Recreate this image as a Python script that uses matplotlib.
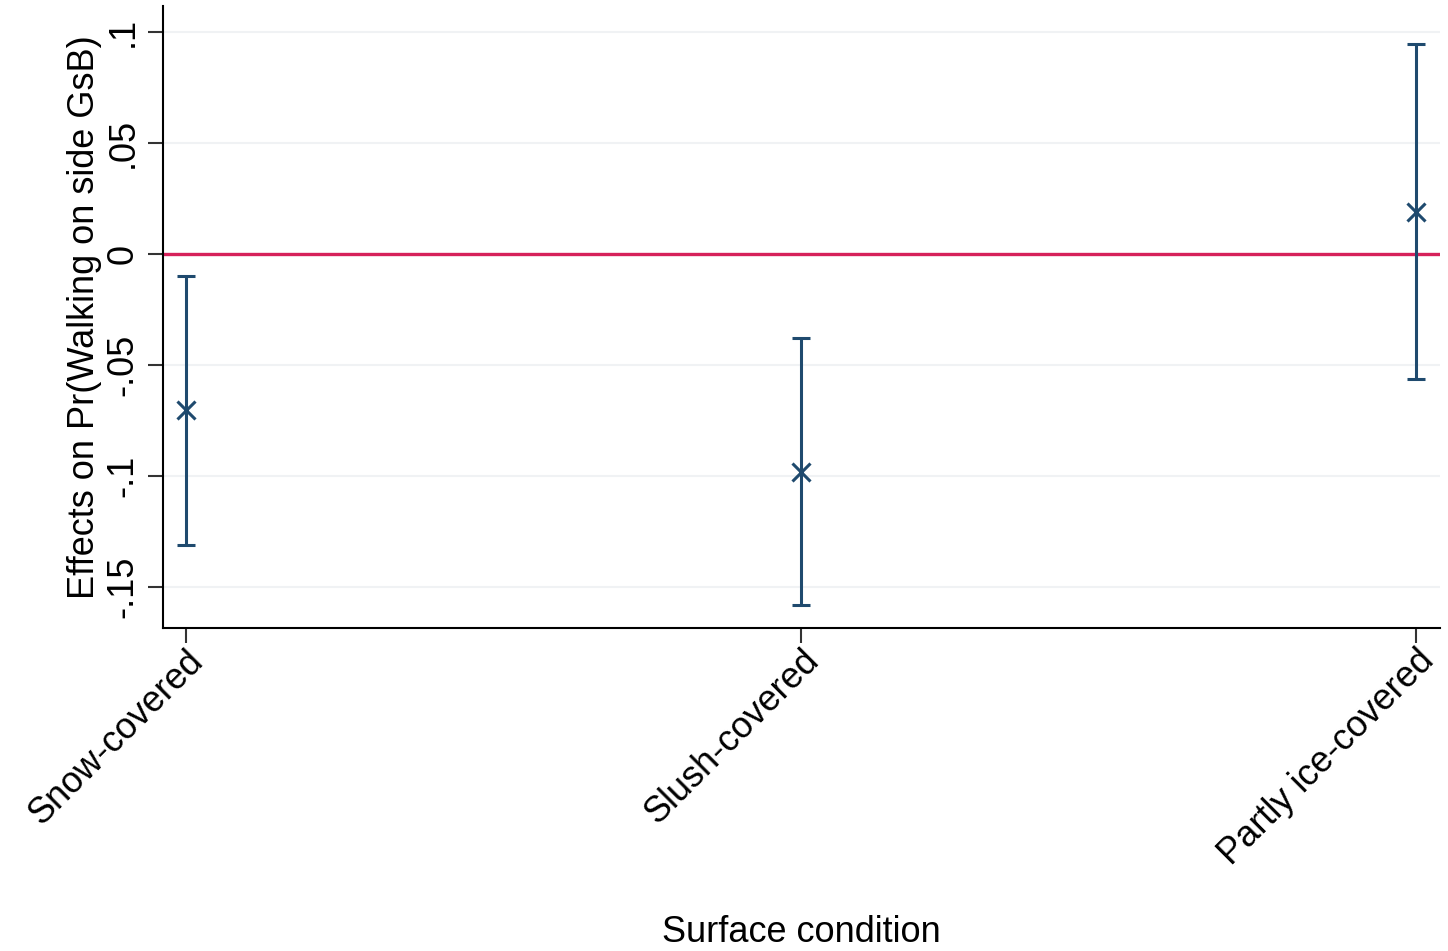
import numpy as np
import matplotlib.pyplot as plt

plt.rcParams['font.family'] = ['Liberation Sans', 'DejaVu Sans']

# Datos
superficies = ['Snow-covered', 'Slush-covered', 'Partly ice-covered']
efectos = [-0.0703, -0.0982, 0.0189]
ic_bajo = [-0.131, -0.158, -0.0563]
ic_alto = [-0.0099, -0.0378, 0.0946]
y_ticks = [-0.15, -0.1, -0.05, 0, 0.05, 0.1]
y_etiquetas = ['-.15', '-.1', '-.05', '0', '.05', '.1']

AZUL = '#1f4a6e'
ROJO = '#d6215a'

fig = plt.figure(figsize=(14.48, 9.51), dpi=100)
ax = fig.add_axes([0.1126, 0.3396, 0.8819, 0.6541])

x = np.arange(1, len(superficies) + 1)
efectos = np.array(efectos)
err = [efectos - np.array(ic_bajo), np.array(ic_alto) - efectos]

for t in y_ticks:
    ax.axhline(t, color='#f0f2f4', lw=1.5, zorder=0)

ax.axhline(0, color=ROJO, lw=2.4, zorder=1)
ax.errorbar(x, efectos, yerr=err, fmt='none', ecolor=AZUL, elinewidth=2.2,
            capsize=6.5, capthick=2.2, zorder=2)
ax.plot(x, efectos, 'x', color=AZUL, ms=13, mew=2.2, zorder=3)

ax.set_xlim(1 - 23 / 615, 3 + 24 / 615)
ax.set_ylim(-0.1685, 0.1117)
ax.set_xticks(x)
ax.set_xticklabels(superficies, rotation=45, ha='right', rotation_mode='anchor',
                   fontsize=26)
ax.set_yticks(y_ticks)
ax.set_yticklabels(y_etiquetas, rotation=90, va='center', fontsize=26)

for lado in ['top', 'right']:
    ax.spines[lado].set_visible(False)
for lado in ['left', 'bottom']:
    ax.spines[lado].set_linewidth(1.5)
ax.tick_params(axis='both', length=11, width=1.5, color='#333333')
ax.tick_params(axis='y', pad=5)
ax.tick_params(axis='x', pad=0)

ax.set_ylabel('Effects on Pr(Walking on side GsB)', fontsize=26, labelpad=3)
ax.set_xlabel('Surface condition', fontsize=26)
ax.xaxis.set_label_coords(0.5, -0.462)

fig.savefig('out.png', dpi=100)
